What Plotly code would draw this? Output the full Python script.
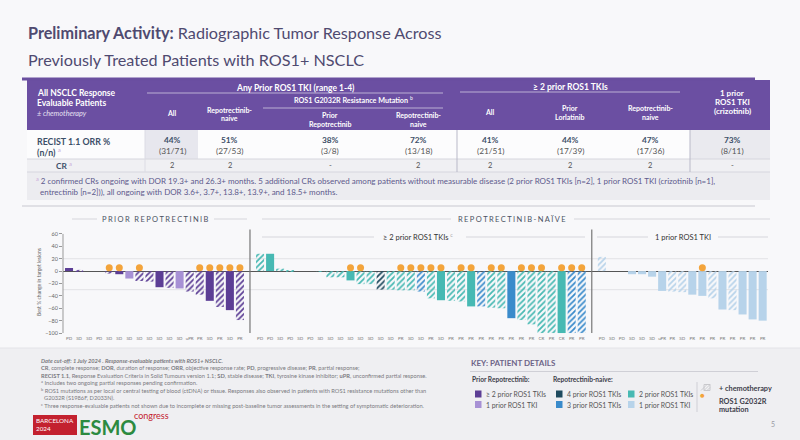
import plotly.graph_objects as go

# ---------------- DATA ----------------
# Prior repotrectinib
prior_rep_resp = ["PD", "SD", "SD", "PD", "SD", "SD", "SD", "SD", "SD", "SD", "SD", "SD",
                  "uPR", "PR", "SD", "PR", "SD", "PR"]
prior_rep_change = [5, 2, 0, 0, -4, -5, -12, -16, -17, -26, -27, -28, -33, -38, -48, -58, -63, -79]
prior_rep_tkis = [2, 2, 2, 2, 2, 2, 1, 2, 2, 2, 2, 1, 2, 2, 2, 2, 2, 2]
prior_rep_chemo = [0, 1, 0, 0, 1, 0, 0, 1, 1, 0, 1, 0, 1, 1, 0, 1, 0, 1]
prior_rep_g2032r = [0, 0, 0, 0, 1, 1, 0, 1, 0, 0, 0, 0, 0, 1, 1, 1, 1, 1]

# Repotrectinib-naive, >= 2 prior ROS1 TKIs
naive2_resp = ["PD", "PD", "SD", "PD", "SD", "PD", "SD", "SD", "SD", "SD", "SD", "SD", "SD", "SD",
               "PR", "SD", "SD", "PR", "SD", "PR", "PR", "PR", "PR", "PR", "PR", "PR", "PR", "PR",
               "CR", "PR", "CR", "PR", "PR"]
naive2_change = [28, 28, 4, 1, 0, 0, -1, -10, -10, -15, -21, -21, -30, -30, -31, -31, -33, -44,
                 -47, -48, -49, -57, -57, -59, -60, -76, -79, -86, -100, -100, -100, -100, -100]
naive2_tkis = [2, 2, 2, 2, 2, 2, 2, 2, 2, 2, 2, 2, 4, 2, 2, 2, 3, 2, 2, 2, 2, 2, 3, 2, 2, 3,
               2, 2, 2, 2, 2, 3, 3]
naive2_chemo = [1, 0, 1, 1, 0, 0, 1, 1, 1, 0, 1, 1, 1, 1, 1, 1, 1, 1, 0, 1, 1, 0, 1, 1, 1, 0,
                1, 1, 1, 1, 0, 1, 1]
naive2_g2032r = [0, 0, 0, 0, 0, 0, 0, 0, 0, 1, 1, 0, 0, 0, 1, 1, 1, 1, 1, 0, 1, 1, 0, 1, 1, 0,
                 1, 1, 1, 0, 1, 1, 1]

# Repotrectinib-naive, 1 prior ROS1 TKI
naive1_resp = ["PD", "SD", "PD", "SD", "SD", "SD", "uPR", "PR", "SD", "PR", "PR", "PR", "PR",
               "PR", "PR", "PR", "PR"]
naive1_change = [23, 0, 0, -5, -5, -9, -32, -33, -34, -38, -40, -44, -62, -63, -70, -78, -80]
naive1_tkis = [1] * 17
naive1_chemo = [1, 0, 0, 0, 0, 0, 0, 1, 1, 0, 0, 1, 0, 1, 0, 0, 0]
naive1_g2032r = [0, 0, 0, 0, 0, 0, 0, 0, 0, 0, 1, 0, 0, 0, 0, 0, 0]

y_ticks = [60, 40, 20, 0, -20, -40, -60, -80, -100]

# Table values
tbl_orr_pct = ["44%", "51%", "38%", "72%", "41%", "44%", "47%", "73%"]
tbl_orr_n = ["(31/71)", "(27/53)", "(3/8)", "(13/18)", "(21/51)", "(17/39)", "(17/36)", "(8/11)"]
tbl_cr = ["2", "2", "-", "2", "2", "2", "2", "-"]

for a, b in [(prior_rep_resp, prior_rep_change), (naive2_resp, naive2_change), (naive1_resp, naive1_change)]:
    assert len(a) == len(b)

# ---------------- STYLE ----------------
W, H = 800, 440
FONT = "Lato"
COL = {("rep", 2): "#5c3e95", ("rep", 1): "#a791d5",
       ("naive", 4): "#1f4a5e", ("naive", 3): "#3a8bcb",
       ("naive", 2): "#47b9b3", ("naive", 1): "#b7d3ea"}
DOT = "#f3a43b"
DOT_LEVEL = 5.5


def tint(hexc, f):
    r, g, b = int(hexc[1:3], 16), int(hexc[3:5], 16), int(hexc[5:7], 16)
    r, g, b = [round(c + (255 - c) * f) for c in (r, g, b)]
    return f"#{r:02x}{g:02x}{b:02x}"


fig = go.Figure()

groups = [
    dict(kind="rep", resp=prior_rep_resp, chg=prior_rep_change, tkis=prior_rep_tkis,
         chemo=prior_rep_chemo, mut=prior_rep_g2032r),
    dict(kind="naive", resp=naive2_resp, chg=naive2_change, tkis=naive2_tkis,
         chemo=naive2_chemo, mut=naive2_g2032r),
    dict(kind="naive", resp=naive1_resp, chg=naive1_change, tkis=naive1_tkis,
         chemo=naive1_chemo, mut=naive1_g2032r),
]

tickvals, ticktext, dot_x, seps = [], [], [], []
pos = 0
for gi, g in enumerate(groups):
    n = len(g["resp"])
    xs = list(range(pos, pos + n))
    cols = [COL[(g["kind"], t)] for t in g["tkis"]]
    fig.add_trace(go.Bar(
        x=xs, y=g["chg"], width=0.8,
        marker=dict(color=cols, line=dict(width=0),
                    pattern=dict(shape=["/" if c else "" for c in g["chemo"]],
                                 fgcolor=cols, bgcolor=[tint(c, 0.8) for c in cols],
                                 size=4, solidity=0.45, fillmode="replace")),
        hoverinfo="skip"))
    tickvals += xs
    ticktext += g["resp"]
    dot_x += [x for x, m in zip(xs, g["mut"]) if m]
    pos += n
    if gi < len(groups) - 1:
        seps.append(pos)
        pos += 1
x_max = pos - 1

fig.add_trace(go.Scatter(x=dot_x, y=[DOT_LEVEL] * len(dot_x), mode="markers",
                         marker=dict(color=DOT, size=7, line=dict(width=0)), hoverinfo="skip"))

# plot geometry (pixels)
PL, PR = 63, 768
PT, PB = 229, 334.9
fig.update_layout(
    width=W, height=H, margin=dict(l=0, r=0, t=0, b=0),
    paper_bgcolor="#f8f8fa", plot_bgcolor="rgba(0,0,0,0)",
    showlegend=False, font=dict(family=FONT, color="#555"),
)
fig.update_xaxes(domain=[PL / W, PR / W], range=[-0.6, x_max + 0.53],
                 tickvals=tickvals, ticktext=ticktext, tickangle=0,
                 tickfont=dict(size=4.5, color="#777"), showgrid=False, zeroline=False,
                 showline=False, ticks="")
fig.update_yaxes(domain=[1 - PB / H, 1 - PT / H], range=[-103, 68],
                 tickvals=y_ticks, tickfont=dict(size=5.5, color="#666"),
                 ticks="outside", ticklen=3, tickcolor="#999", showgrid=False,
                 zeroline=True, zerolinecolor="#555", zerolinewidth=1, showline=False,
                 title=dict(text="Best % change in target lesions", standoff=3,
                            font=dict(size=5, color="#666")))

shapes = []


def px(x):
    return x / W


def py(y):
    return 1 - y / H


def rect(x0, y0, x1, y1, fill, line=None):
    shapes.append(dict(type="rect", xref="paper", yref="paper", x0=px(x0), x1=px(x1),
                       y0=py(y1), y1=py(y0), fillcolor=fill,
                       line=dict(width=0 if line is None else 1, color=line or fill), layer="below"))


def hline(x0, x1, y, color, width=1):
    shapes.append(dict(type="line", xref="paper", yref="paper", x0=px(x0), x1=px(x1),
                       y0=py(y), y1=py(y), line=dict(color=color, width=width)))


def vline(x, y0, y1, color, width=1):
    shapes.append(dict(type="line", xref="paper", yref="paper", x0=px(x), x1=px(x),
                       y0=py(y0), y1=py(y1), line=dict(color=color, width=width)))


def text(x, y, s, size, color, anchor="left", family=FONT, angle=0):
    fig.add_annotation(x=px(x), y=py(y), xref="paper", yref="paper", text=s, showarrow=False,
                       xanchor=anchor, yanchor="middle", align=anchor, borderpad=0,
                       font=dict(size=size, color=color, family=family), textangle=angle)


# chart reference lines
for lvl in (20, -30):
    shapes.append(dict(type="line", xref="x domain", yref="y", x0=0, x1=1, y0=lvl, y1=lvl,
                       line=dict(color="#e2e2e6", width=1), layer="below"))
shapes.append(dict(type="line", xref="x domain", yref="y", x0=0, x1=0, y0=-100, y1=60,
                   line=dict(color="#999", width=1)))
for s in seps:
    shapes.append(dict(type="line", xref="x", yref="y", x0=s, x1=s, y0=-100, y1=67,
                       line=dict(color="#777", width=1.2)))

# ---------------- BACKGROUND / TITLE ----------------
rect(0, 348, 800, 440, "#efeff2")
hline(0, 800, 348, "#e4e4e8", 1)

TITLE_C = "#4f4a70"
text(27, 32, "<b>Preliminary Activity:</b> Radiographic Tumor Response Across", 16.2, TITLE_C)
text(27, 60, "Previously Treated Patients with ROS1+ NSCLC", 16.2, TITLE_C)
hline(22, 755, 79, "#6a4f9f", 3)

# ---------------- TABLE ----------------
HDR = "#6b4fa2"
rect(27, 80, 770, 130, HDR)
rect(27, 130, 770, 159, "#fcfcfd")
rect(145, 130, 198, 159, "#e7e7ee")
rect(690, 130, 770, 159, "#eaeaef")
rect(27, 159, 770, 172, "#f0f0f3")
rect(27, 172, 770, 200, "#ececf0")
hline(27, 770, 159, "#d6d6de")
hline(27, 770, 172, "#d6d6de")
vline(145, 130, 172, "#dcdce4")
vline(457, 130, 172, "#b9b9c8")
vline(690, 130, 172, "#b9b9c8")
hline(22, 755, 206, "#c8c8d0")

WL = "rgba(255,255,255,0.55)"
hline(147, 443, 93, WL)
hline(460, 680, 92, WL)
hline(263, 443, 108, WL)

WH = "#ffffff"
text(36, 93, "<b>All NSCLC Response</b>", 8.5, WH)
text(36, 103, "<b>Evaluable Patients</b>", 8.5, WH)
text(36, 113, "<i>± chemotherapy</i>", 7.3, "#e6e0f2")
text(295, 87.5, "<b>Any Prior ROS1 TKI (range 1-4)</b>", 8.5, WH, "center")
text(353, 100, "<b>ROS1 G2032R Resistance Mutation</b> <sup>b</sup>", 7.2, WH, "center")
text(570, 87, "<b>≥ 2 prior ROS1 TKIs</b>", 8.5, WH, "center")
centers = [172, 230, 330, 418, 490, 570, 650, 732]
hdr_lines = [
    (["All"], 113),
    (["Repotrectinib-", "naive"], 110),
    (["Prior", "Repotrectinib"], 115),
    (["Repotrectinib-", "naive"], 115),
    (["All"], 112),
    (["Prior", "Lorlatinib"], 108),
    (["Repotrectinib-", "naive"], 108),
    (["1 prior", "ROS1 TKI", "(crizotinib)"], 93),
]
for cx, (lines, y0) in zip(centers, hdr_lines):
    big = cx == 732
    for k, ln in enumerate(lines):
        text(cx, y0 + k * (9 if big else 8.5), f"<b>{ln}</b>", 8 if big else 7, WH, "center")

LBL = "#3c4f68"
text(36, 141, "<b>RECIST 1.1 ORR %</b>", 8.8, LBL)
text(36, 152, "<b>(n/n)</b> <sup><span style='color:#c9a9d9'>a</span></sup>", 8.8, LBL)
text(55, 165.5, "<b>CR</b> <sup><span style='color:#c9a9d9'>a</span></sup>", 8.3, LBL)
for cx, p, nn, cr in zip(centers, tbl_orr_pct, tbl_orr_n, tbl_cr):
    text(cx, 140, f"<b>{p}</b>", 8.3, LBL, "center")
    text(cx, 151, nn, 8.3, "#555", "center")
    text(cx, 165.5, cr, 7.5, "#555", "center")

FN = "#5d5a8c"
text(35, 180.5, "<sup><span style='color:#c9a9d9'>a</span></sup> 2 confirmed CRs ongoing with DOR 19.3+ and 26.3+ months. "
     "5 additional CRs observed among patients without measurable disease (2 prior ROS1 TKIs [n=2], "
     "1 prior ROS1 TKI (crizotinib [n=1],", 8, FN)
text(39, 191.5, "entrectinib [n=2])), all ongoing with DOR 3.6+, 3.7+, 13.8+, 13.9+, and 18.5+ months.", 8, FN)

# ---------------- CHART SECTION HEADERS ----------------
SEC = "#4a5262"
LINE_C = "#d6d6dc"


def spaced(s):
    return "\u2009\u200a".join(list(s))


text(155, 219, spaced("PRIOR REPOTRECTINIB"), 7.5, SEC, "center")
hline(72, 97, 219, LINE_C)
hline(214, 247, 219, LINE_C)
text(512, 219, spaced("REPOTRECTINIB-NAÏVE"), 7.5, SEC, "center")
hline(262, 451, 219, LINE_C)
hline(574, 770, 219, LINE_C)
text(418, 237, "≥ 2 prior ROS1 TKIs <sup><span style='color:#aaa'>c</span></sup>", 7.5, "#333", "center")
hline(262, 374, 237, LINE_C)
hline(466, 585, 237, LINE_C)
text(683, 237, "1 prior ROS1 TKI", 7.5, "#333", "center")
hline(597, 648, 237, LINE_C)
hline(718, 768, 237, LINE_C)

# ---------------- FOOTNOTES ----------------
FT = "#7a7a80"
fs = 5.7
text(40, 360, "<b><i>Date cut-off: 1 July 2024 . Response-evaluable patients with ROS1+ NSCLC.</i></b>", fs, FT)
text(40, 367.5, "<b>CR</b>, complete response; <b>DOR</b>, duration of response; <b>ORR</b>, objective response rate; "
     "<b>PD</b>, progressive disease; <b>PR</b>, partial response;", fs, FT)
text(40, 375, "<b>RECIST 1.1</b>, Response Evaluation Criteria in Solid Tumours version 1.1; <b>SD</b>, stable disease; "
     "<b>TKI</b>, tyrosine kinase inhibitor; <b>uPR</b>, unconfirmed partial response.", fs, FT)
text(40, 382.5, "<sup>a</sup> Includes two ongoing partial responses pending confirmation.", fs, FT)
text(40, 390, "<sup>b</sup> ROS1 mutations as per local or central testing of blood (ctDNA) or tissue. "
     "Responses also observed in patients with ROS1 resistance mutations other than", fs, FT)
text(43, 397, "G2032R (S1986F, D2033N).", fs, FT)
text(40, 405, "<sup>c</sup> Three response-evaluable patients not shown due to incomplete or missing post-baseline "
     "tumor assessments in the setting of symptomatic deterioration.", fs, FT)

# logo
NARROW = "Liberation Sans Narrow, Lato"
rect(33, 415, 77, 435, "#c3212f")
text(35, 420.5, "BARCELONA", 6.3, WH, family=NARROW)
text(35, 428.5, "2024", 6.3, WH, family=NARROW)
fig.add_annotation(x=px(78), y=py(426.5), xref="paper", yref="paper", text="<b>ESMO</b>",
                   showarrow=False, xanchor="left", yanchor="middle", borderpad=0,
                   font=dict(size=20, color="#2c8a40", family=NARROW, weight=900))
text(133, 415, "congress", 9, "#c3212f", family=NARROW)

# ---------------- KEY ----------------
KC = "#6d6487"
KT = "#3d3d4a"
text(470, 363, "<b>KEY: PATIENT DETAILS</b>", 8, KC)
hline(470, 758, 371.5, "#cfcfd6", 1)
text(471, 379, "<b>Prior Repotrectinib:</b>", 6.6, KT)
text(552, 379, "<b>Repotrectinib-naive:</b>", 6.6, KT)
key_items = [
    (475, 394, COL[("rep", 2)], "≥ 2 prior ROS1 TKIs"),
    (475, 404.5, COL[("rep", 1)], "1 prior ROS1 TKI"),
    (556, 394, COL[("naive", 4)], "4 prior ROS1 TKIs"),
    (556, 404.5, COL[("naive", 3)], "3 prior ROS1 TKIs"),
    (628, 394, COL[("naive", 2)], "2 prior ROS1 TKIs"),
    (628, 404.5, COL[("naive", 1)], "1 prior ROS1 TKI"),
]
for kx, ky, kc, kt in key_items:
    rect(kx, ky - 3.5, kx + 6.5, ky + 3.5, kc)
    text(kx + 10, ky, kt, 6.9, "#555")
vline(697, 382, 412, "#cfcfd6")
rect(704, 384.5, 710, 390.5, "#f2f2f4", "#c8c8cc")
shapes.append(dict(type="path", xref="paper", yref="paper",
                   path=" ".join(f"M{px(704 + d)},{py(390.5)} L{px(min(710, 704 + d + 6))},{py(390.5 - (min(710, 704 + d + 6) - 704 - d))}"
                                 for d in (-3, 0, 3)),
                   line=dict(color="#c0c0c6", width=0.8)))
text(718, 388, "<b>+ chemotherapy</b>", 7.3, KT)
fig.add_annotation(x=px(707), y=py(402), xref="paper", yref="paper", text="●", showarrow=False,
                   font=dict(size=8, color=DOT))
text(718, 401.5, "<b>ROS1 G2032R</b>", 7.3, KT)
text(718, 409.5, "<b>mutation</b>", 7.3, KT)
text(773, 424, "5", 7, "#9a9aa2", "center")

fig.update_layout(shapes=shapes)
fig.write_html("out.html", config={"displayModeBar": False},
               post_script="document.body.style.margin='0';")
